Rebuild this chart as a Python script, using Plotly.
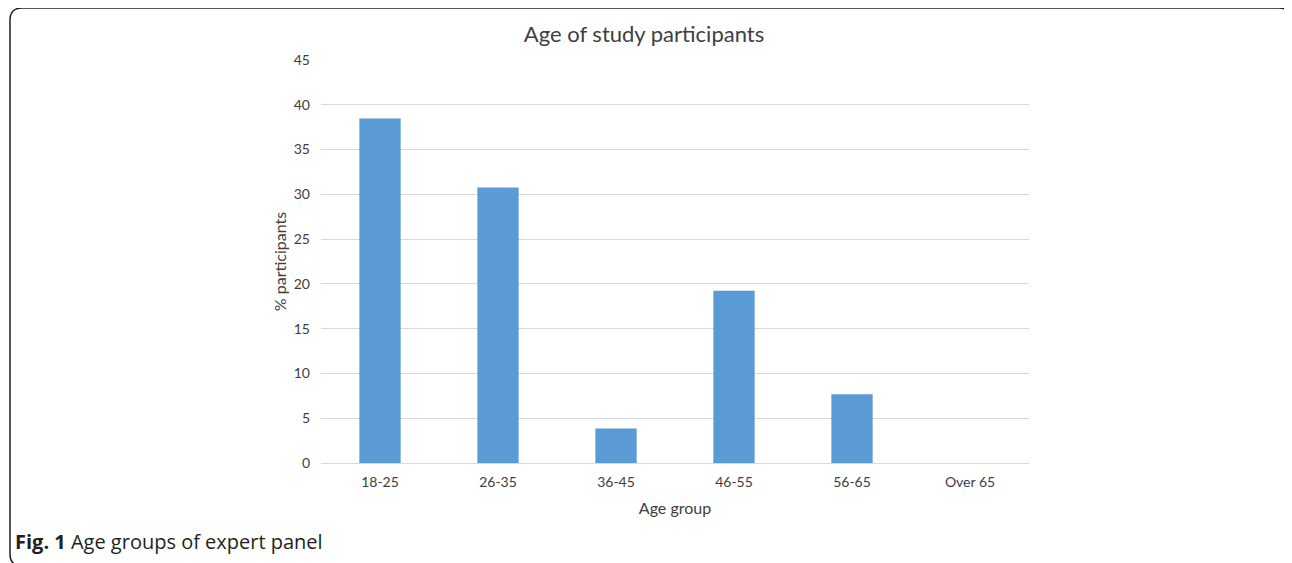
import plotly.graph_objects as go

categories = ["18-25", "26-35", "36-45", "46-55", "56-65", "Over 65"]
values = [38.46, 30.77, 3.85, 19.23, 7.69, 0]
y_ticks = [0, 5, 10, 15, 20, 25, 30, 35, 40, 45]

# page has an 8px body margin, so the figure is 8px smaller and shifted
OFF = 8
W, H = 1292 - OFF, 563 - OFF
L, R, T, B = 321 - OFF, 263, 60 - OFF, 100
pw, ph = W - L - R, H - T - B

def px(x):
    return (x - OFF - L) / pw

def py(y):
    return (H - B - (y - OFF)) / ph

fig = go.Figure()
fig.add_trace(go.Bar(
    x=categories, y=values, width=0.35,
    marker=dict(color="#5b9bd5", line=dict(width=0)),
))

font = "Lato, 'Open Sans', sans-serif"
fig.update_layout(
    width=W, height=H,
    margin=dict(l=L, r=R, t=T, b=B),
    paper_bgcolor="white", plot_bgcolor="white",
    showlegend=False,
    title=dict(text="Age of study participants", x=(644 - OFF) / W, xref="container", xanchor="center",
               y=1 - (34 - OFF) / H, yref="container", yanchor="middle",
               font=dict(family=font, size=22, color="#404040")),
    xaxis=dict(showgrid=False, showline=False, ticks="",
               ticklabelstandoff=9,
               tickfont=dict(family=font, size=14, color="#404040"),
               title=dict(text="Age group", font=dict(family=font, size=16, color="#404040"), standoff=13)),
    yaxis=dict(range=[0, 45], tickvals=y_ticks, showgrid=True, gridcolor="#d9d9d9", gridwidth=1,
               zeroline=True, zerolinecolor="#d9d9d9", zerolinewidth=1, showline=False, ticks="",
               ticklabelstandoff=10,
               tickfont=dict(family=font, size=14, color="#404040"),
               title=dict(text="% participants", font=dict(family=font, size=16, color="#404040"), standoff=3)),
)

x0, x1 = px(10), px(1291)
y0, y1 = py(566), py(8)
rx, ry = 12 / pw, 12 / ph
path = (f"M {x0+rx},{y1} L {x1-rx},{y1} Q {x1},{y1} {x1},{y1-ry} "
        f"L {x1},{y0+ry} Q {x1},{y0} {x1-rx},{y0} L {x0+rx},{y0} "
        f"Q {x0},{y0} {x0},{y0+ry} L {x0},{y1-ry} Q {x0},{y1} {x0+rx},{y1} Z")
fig.add_shape(type="path", path=path, xref="paper", yref="paper",
              line=dict(color="#231f20", width=1.5))

fig.add_annotation(text="<b>Fig. 1</b> Age groups of expert panel", xref="paper", yref="paper",
                   x=px(13), y=py(541), xanchor="left", yanchor="middle", showarrow=False,
                   font=dict(family="'Open Sans', sans-serif", size=20, color="#231f20"))

fig.write_html("out.html")
